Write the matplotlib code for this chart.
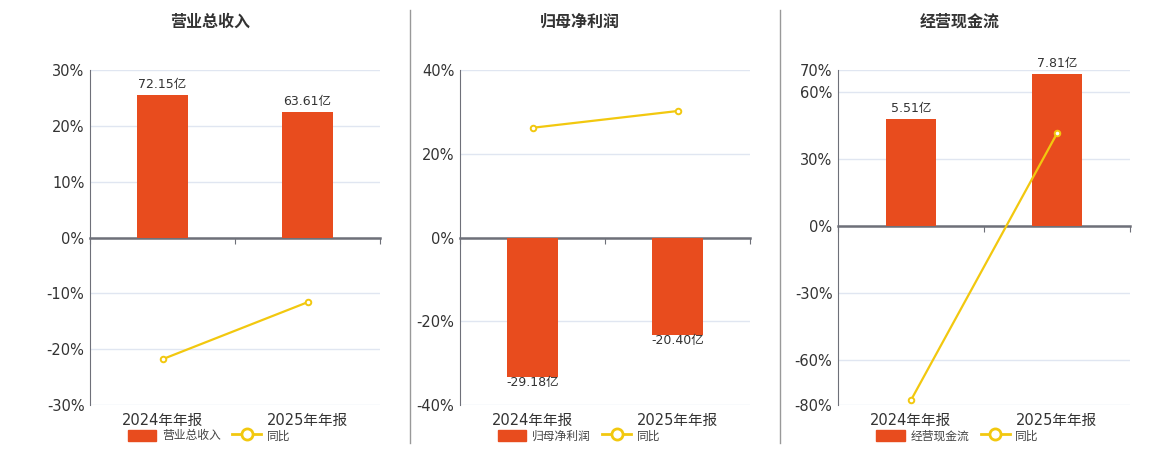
import matplotlib
matplotlib.use('Agg')
import matplotlib.pyplot as plt
from matplotlib.patches import Patch
from matplotlib.lines import Line2D
import matplotlib.transforms as mtransforms

plt.rcParams['font.family'] = ['DejaVu Sans', 'Noto Sans CJK SC']

categories = ['2024年年报', '2025年年报']
titles = ['营业总收入', '归母净利润', '经营现金流']
amounts = [[72.15, 63.61], [-29.18, -20.40], [5.51, 7.81]]
yoy = [[-21.8, -11.6], [26.2, 30.2], [-77.8, 41.6]]
yticks = [[-30, -20, -10, 0, 10, 20, 30],
          [-40, -20, 0, 20, 40],
          [-80, -60, -30, 0, 30, 60, 70]]

bar_color = '#E84C1E'
line_color = '#F2C80F'
text_color = '#333333'

# percent of axis per 亿, so bars sit at the same height as the reference
bar_scale = [0.3534, 1.141, 8.71]
ax_left = [90, 460, 838]
ax_width = [290, 290, 292]
title_x = [210, 580, 960]

W, H = 1160, 450
fig = plt.figure(figsize=(W / 100, H / 100), dpi=100)

for i in range(3):
    ax = fig.add_axes([ax_left[i] / W, 45 / H, ax_width[i] / W, 335 / H])
    lo, hi = yticks[i][0], yticks[i][-1]
    ax.set_xlim(-0.5, 1.5)
    ax.set_ylim(lo, hi)
    ax.set_yticks(yticks[i])
    ax.set_yticklabels([f'{t}%' for t in yticks[i]])
    ax.yaxis.grid(True, color='#E0E6F1', linewidth=1)
    ax.set_axisbelow(True)
    ax.tick_params(axis='y', length=0, labelsize=10.5, labelcolor=text_color, pad=4)
    for s in ['top', 'right']:
        ax.spines[s].set_visible(False)
    ax.spines['left'].set_color('#6E7079')
    ax.spines['bottom'].set_position(('data', 0))
    ax.spines['bottom'].set_color('#6E7079')
    ax.spines['bottom'].set_linewidth(1.8)
    ax.set_xticks([-0.5, 0.5, 1.5])
    ax.set_xticklabels([])
    ax.tick_params(axis='x', length=4, color='#6E7079', direction='out')
    trans = mtransforms.blended_transform_factory(ax.transData, ax.transAxes)
    for j, c in enumerate(categories):
        ax.text(j, -0.045, c, transform=trans, ha='center', va='center',
                fontsize=10.5, color=text_color)

    # bars on their own scale, zero aligned with the percent axis
    axb = ax.twinx()
    axb.set_ylim(lo / bar_scale[i], hi / bar_scale[i])
    axb.axis('off')
    bars = axb.bar(range(2), amounts[i], width=0.345, color=bar_color, zorder=2)
    for b, v in zip(bars, amounts[i]):
        if v >= 0:
            axb.annotate(f'{v:.2f}亿', (b.get_x() + b.get_width() / 2, v),
                         xytext=(0, 3), textcoords='offset points',
                         ha='center', va='bottom', fontsize=9, color=text_color)
        else:
            axb.annotate(f'{v:.2f}亿', (b.get_x() + b.get_width() / 2, v),
                         xytext=(0, 1), textcoords='offset points',
                         ha='center', va='top', fontsize=9, color=text_color)

    axl = ax.twinx()
    axl.set_ylim(lo, hi)
    axl.axis('off')
    axl.plot(range(2), yoy[i], color=line_color, linewidth=1.6, marker='o',
             markersize=4, markerfacecolor='white', markeredgecolor=line_color,
             markeredgewidth=1.4)

    fig.text(title_x[i] / W, 1 - 22 / H, titles[i], ha='center', va='center',
             fontsize=11.5, fontweight='bold', color=text_color,
             family=['Noto Sans CJK SC'])

    handles = [Patch(facecolor=bar_color, edgecolor=bar_color),
               Line2D([0], [0], color=line_color, linewidth=2, marker='o',
                      markersize=8, markerfacecolor='white',
                      markeredgecolor=line_color, markeredgewidth=2)]
    ax.legend(handles, [titles[i], '同比'], loc='center',
              bbox_to_anchor=(0.41, -0.092), ncol=2, frameon=False,
              fontsize=8.5, handlelength=2.4, handleheight=1.1,
              columnspacing=1.0, handletextpad=0.5, labelcolor='#444444')

for x in [410, 780]:
    fig.add_artist(Line2D([x / W, x / W], [7 / H, 1 - 10 / H],
                          color='#999999', linewidth=1))

fig.savefig('out.png', dpi=100)
